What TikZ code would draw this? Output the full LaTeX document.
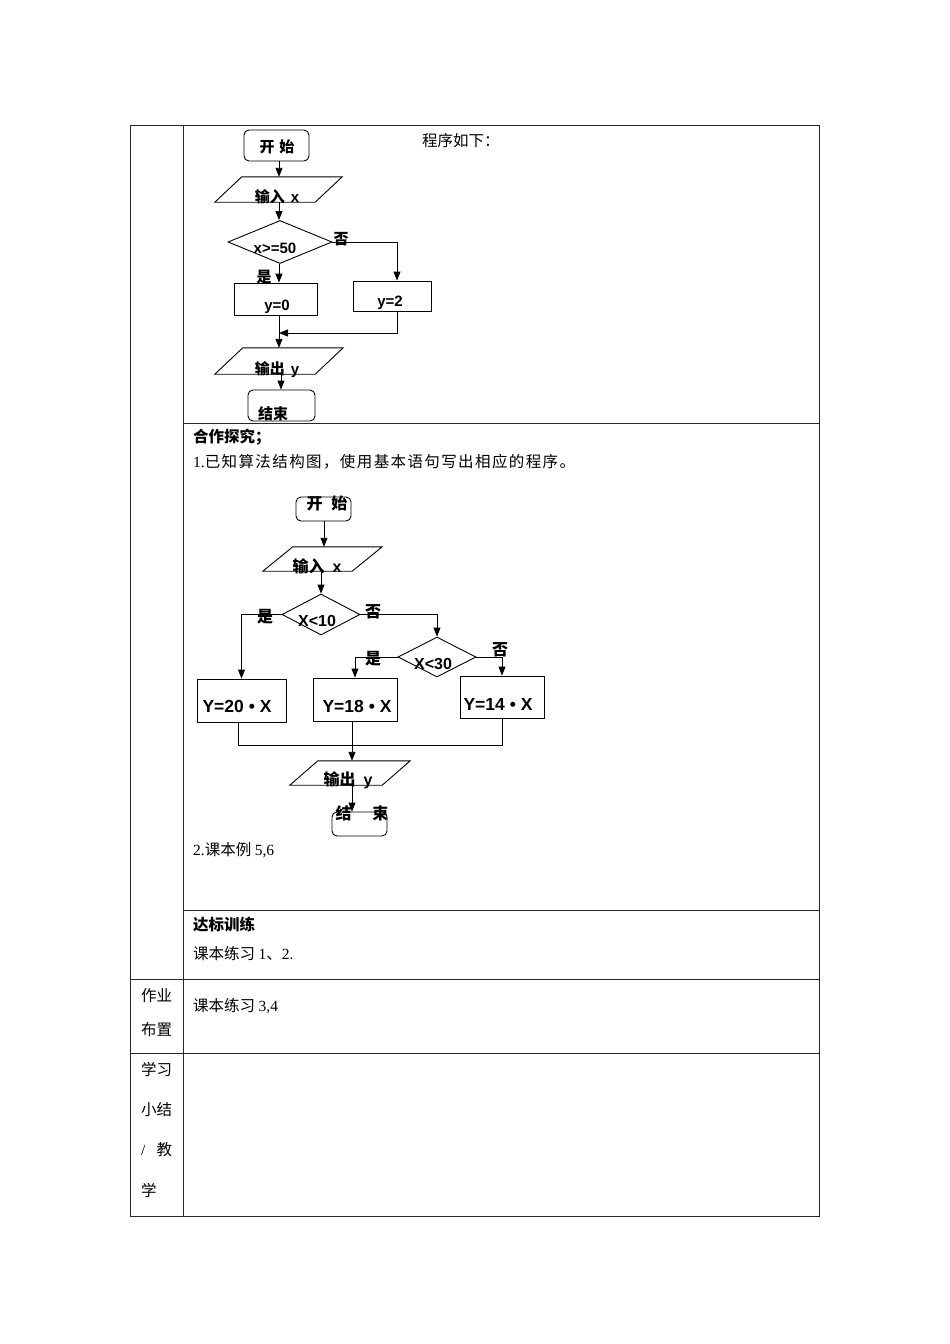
\documentclass[tikz,border=0pt]{standalone}
\usepackage{fontspec}
\setmainfont{Liberation Serif}
\newfontfamily\cjk{Noto Sans CJK SC}
\newfontfamily\cjkwide{Noto Sans CJK SC}[LetterSpace=9]
\newfontfamily\arial{Liberation Sans}
\usetikzlibrary{shapes.geometric,arrows.meta,calc}
\newcommand\drawpara[2]{\draw[fl] ([xshift=#2]#1.north west) -- (#1.north east) -- ([xshift=-#2]#1.south east) -- (#1.south west) -- cycle;}
\begin{document}
\begin{tikzpicture}[x=1pt,y=-1pt,
  tline/.style={line width=1pt,draw=black!85},
  fl/.style={line width=0.9pt,draw=black},
  arr/.style={fl,-{Triangle[length=9pt,width=7pt]}},
  rbox/.style={draw,line width=0.9pt,rounded corners=5pt,inner sep=0pt},
  pbox/.style={draw,line width=0.9pt,inner sep=0pt},
  ghost/.style={inner sep=0pt},
  dia/.style={diamond,draw,line width=0.9pt,inner sep=0pt},
  txt/.style={inner sep=0pt,anchor=west,font=\fontsize{15.5}{18}\selectfont\cjk},
  txtb/.style={inner sep=0pt,anchor=west,font=\fontsize{15.5}{18}\selectfont\cjk\bfseries},
  lab/.style={inner sep=0pt,font=\fontsize{15}{17}\selectfont\cjk\bfseries},
  labB/.style={inner sep=0pt,font=\fontsize{16}{18}\selectfont\cjk\bfseries},
  labY/.style={inner sep=0pt,font=\fontsize{17.5}{20}\selectfont\arial\bfseries},
]
\useasboundingbox (0,0) rectangle (950,1344);
\fill[white] (0,0) rectangle (950,1344);

% ---------- table ----------
\draw[tline] (130,125) rectangle (819,1216);
\draw[tline] (183,125) -- (183,1216);
\draw[tline] (183,423) -- (819,423);
\draw[tline] (183,910) -- (819,910);
\draw[tline] (130,979) -- (819,979);
\draw[tline] (130,1053) -- (819,1053);

% ---------- table texts ----------
\node[txt] (t0) at (422,141) {程序如下：};
\node[txtb] (t1) at (193,437) {合作探究；};
\node[inner sep=0pt,anchor=west,font=\fontsize{15.5}{18}\selectfont\cjkwide] (t2) at (193,462) {{\rmfamily 1.}已知算法结构图，使用基本语句写出相应的程序。};
\node[txt] (t3) at (193,850) {{\rmfamily 2.}课本例 {\rmfamily 5,6}};
\node[txtb] (t4) at (193,925) {达标训练};
\node[txt] (t5) at (193,954) {课本练习 {\rmfamily 1}、{\rmfamily 2.}};
\node[txt] (t6) at (193,1006) {课本练习 {\rmfamily 3,4}};
\node[txt] (l1) at (141,996) {作业};
\node[txt] (l2) at (141,1030) {布置};
\node[txt] (l3) at (141,1070) {学习};
\node[txt] (l4) at (141,1110) {小结};
\node[txt] (l5) at (141,1150) {{\rmfamily /}\hspace{11pt}教};
\node[txt] (l6) at (141,1191) {学};

% ---------- flowchart 1 ----------
\node[rbox,minimum width=65pt,minimum height=31pt] (s1) at (276.5,145.5) {};
\node[lab] (s1t) at (277,147) {开\hspace{5pt}始};
\node[ghost,minimum width=127pt,minimum height=25pt] (in1) at (278.5,189.5) {};
\drawpara{in1}{27}
\node[lab] (in1t) at (277,197) {输入\hspace{6pt}{\arial x}};
\node[dia,minimum width=104pt,minimum height=43pt] (d1) at (280,242) {};
\node[lab] (d1t) at (275,248) {\arial x>=50};
\node[pbox,minimum width=83pt,minimum height=32pt] (r1) at (275.5,299) {};
\node[lab] (r1t) at (277,307) {\arial y=0};
\node[pbox,minimum width=78pt,minimum height=30pt] (r2) at (392,296) {};
\node[lab] (r2t) at (390,303) {\arial y=2};
\node[lab] (no1) at (341,239) {否};
\node[lab] (yes1) at (264,277) {是};
\node[ghost,minimum width=128pt,minimum height=26pt] (out1) at (279,361) {};
\drawpara{out1}{28}
\node[lab] (out1t) at (277,370) {输出\hspace{6pt}{\arial y}};
\node[rbox,minimum width=67pt,minimum height=31pt] (e1) at (281.5,405.5) {};
\node[lab] (e1t) at (273,414) {结束};
\coordinate (m1) at (279,333);

\draw[arr] (s1.south -| m1) -- (m1 |- in1.north);
\draw[arr] (m1 |- in1.south) -- (m1 |- d1.north);
\draw[arr] (d1.south -| m1) -- (m1 |- r1.north);
\draw[arr] (d1.east) -| ([xshift=5pt]r2.north);
\draw[arr] ([xshift=5pt]r2.south) |- (m1);
\draw[arr] (m1 |- r1.south) -- (m1 |- out1.north);
\draw[arr] ([xshift=2pt]out1.south) -- ([xshift=2pt]out1.south |- e1.north);

% ---------- flowchart 2 ----------
\node[rbox,minimum width=55pt,minimum height=24pt] (s2) at (323.5,509) {};
\node[labB] (s2t) at (327,503) {开\hspace{9pt}始};
\node[ghost,minimum width=119pt,minimum height=24pt] (in2) at (322.5,559) {};
\drawpara{in2}{30}
\node[labB] (in2t) at (317,566) {输入\hspace{8pt}{\arial x}};
\node[dia,minimum width=78pt,minimum height=41pt] (d2) at (321,614.5) {};
\node[labB] (d2t) at (317,621) {\arial X<10};
\node[dia,minimum width=78pt,minimum height=40pt] (d3) at (437,657) {};
\node[labB] (d3t) at (433,664) {\arial X<30};
\node[pbox,minimum width=89pt,minimum height=43pt] (ya) at (241.5,700.5) {};
\node[labY] (yat) at (237,706) {Y=20 \textbullet\ X};
\node[pbox,minimum width=84pt,minimum height=43pt] (yb) at (355,699.5) {};
\node[labY] (ybt) at (357,706) {Y=18 \textbullet\ X};
\node[pbox,minimum width=84pt,minimum height=42pt] (yc) at (502,697) {};
\node[labY] (yct) at (498,704) {Y=14 \textbullet\ X};
\node[labB] (yes2) at (265,617) {是};
\node[labB] (no2) at (373,612) {否};
\node[labB] (yes3) at (373,659) {是};
\node[labB] (no3) at (500,650) {否};
\node[ghost,minimum width=120pt,minimum height=24pt] (out2) at (350,773) {};
\drawpara{out2}{28}
\node[labB] (out2t) at (348,780) {输出\hspace{8pt}{\arial y}};
\node[rbox,minimum width=55pt,minimum height=24pt] (e2) at (359.5,824) {};
\node[labB] (e2t) at (362,813) {结\hspace{21pt}束};
\coordinate (m2) at (352,745);

\draw[arr] ([xshift=0.5pt]s2.south) -- ([xshift=0.5pt]s2.south |- in2.north);
\draw[arr] (d2.north |- in2.south) -- (d2.north);
\draw[arr] (d2.west) -| (ya.north);
\draw[arr] (d2.east) -| (d3.north);
\draw[arr] (d3.west) -| (yb.north);
\draw[arr] (d3.east) -| (yc.north);
\draw[fl] ([xshift=-3pt]ya.south) |- (yc.south |- m2) -- (yc.south);
\draw[arr] (m2 |- yb.south) -- (m2 |- out2.north);
\draw[arr] (m2 |- out2.south) -- (m2 |- e2.north);
\end{tikzpicture}
\end{document}
